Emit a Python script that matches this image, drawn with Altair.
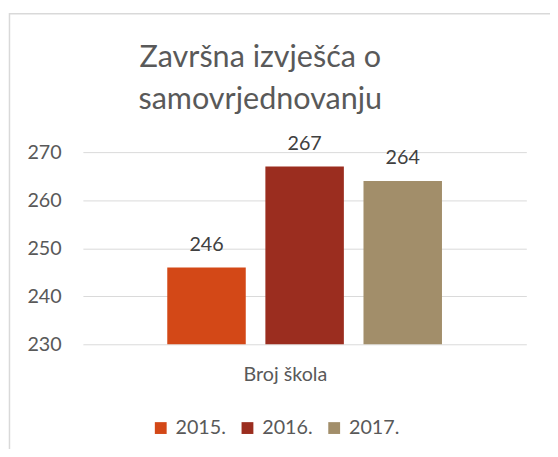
import altair as alt
import pandas as pd

years = ["2015.", "2016.", "2017."]
values = [246, 267, 264]
colors = ["#D34817", "#9B2D1F", "#A28E6A"]
y_ticks = [230, 240, 250, 260, 270]
title_lines = ["Završna izvješća o", "samovrjednovanju"]
x_title = "Broj škola"

df = pd.DataFrame({"year": years, "value": values})
FONT = "Lato"

x_enc = alt.X(
    "year:N",
    sort=years,
    scale=alt.Scale(paddingInner=0.2, paddingOuter=0.86),
    axis=alt.Axis(
        labels=False, ticks=False, domain=False, grid=False,
        title=x_title, titleFont=FONT, titleFontSize=20, titleFontWeight="normal",
        titleColor="#595959", titleX=205, titleY=37, titleBaseline="alphabetic",
        titleAlign="center", titleAnchor=None,
    ),
)
y_scale = alt.Scale(domain=[230, 270], nice=False, zero=False)

bars = alt.Chart(df).mark_bar().encode(
    x=x_enc,
    y=alt.Y(
        "value:Q",
        scale=y_scale,
        axis=alt.Axis(
            values=y_ticks, title=None, ticks=False, domain=False, grid=True,
            gridColor="#D9D9D9", gridWidth=1, labelFont=FONT, labelFontSize=20,
            labelColor="#595959", labelPadding=22,
        ),
    ),
    y2=alt.datum(230),
    color=alt.Color(
        "year:N",
        sort=years,
        scale=alt.Scale(domain=years, range=colors),
        legend=alt.Legend(
            title=None, orient="none", legendX=69, legendY=270, direction="horizontal",
            symbolType="square", symbolSize=144, symbolStrokeWidth=0,
            labelFont=FONT, labelFontSize=20, labelColor="#595959",
            labelOffset=5, columnPadding=11, padding=0,
        ),
    ),
)

labels = alt.Chart(df).mark_text(
    dy=-17, baseline="alphabetic", font=FONT, fontSize=20, color="#404040"
).encode(
    x=alt.X("year:N", sort=years),
    y=alt.Y("value:Q", scale=y_scale),
    text="value:Q",
)

one = pd.DataFrame({"a": [0]})

border = alt.Chart(one).mark_rect(
    fill=None, stroke="#D9D9D9", strokeWidth=1.5
).encode(
    x=alt.value(-74.5), x2=alt.value(490), y=alt.value(-140.5), y2=alt.value(320)
)

title1 = alt.Chart(one).mark_text(
    font=FONT, fontSize=31, color="#595959", baseline="alphabetic", align="center"
).encode(x=alt.value(180), y=alt.value(-86), text=alt.value(title_lines[0]))

title2 = alt.Chart(one).mark_text(
    font=FONT, fontSize=31, color="#595959", baseline="alphabetic", align="center"
).encode(x=alt.value(180), y=alt.value(-44), text=alt.value(title_lines[1]))

chart = alt.layer(border, bars, labels, title1, title2).properties(
    width=450,
    height=195,
    autosize=alt.AutoSizeParams(type="none"),
    padding={"left": 76, "top": 143, "right": 24, "bottom": 103},
    background="white",
).configure_view(stroke=None)

chart.save("out.html", embed_options={"renderer": "svg", "actions": False})
